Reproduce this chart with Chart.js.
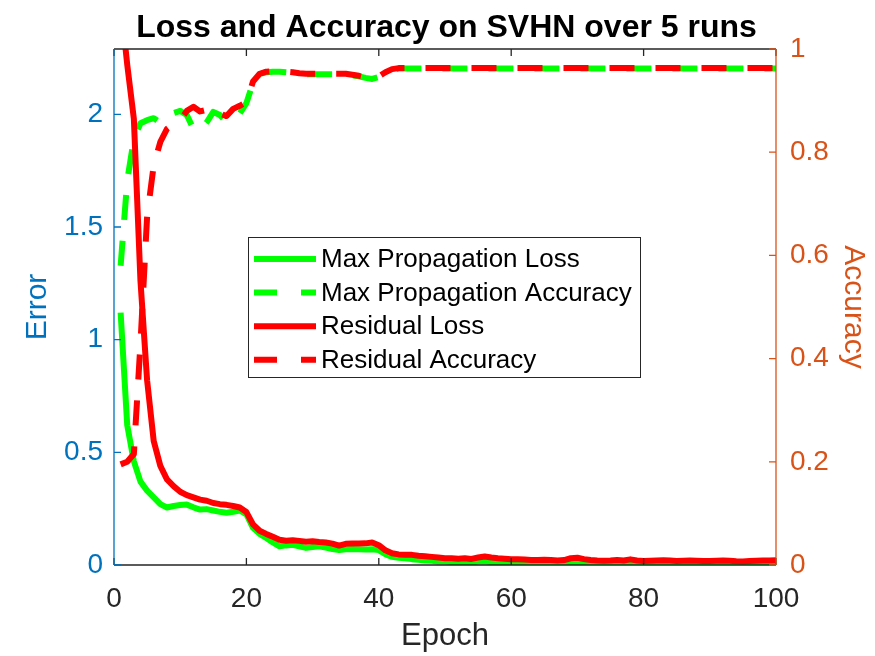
<!DOCTYPE html>
<html>
<head>
<meta charset="utf-8">
<script src="https://cdn.jsdelivr.net/npm/chart.js@4/dist/chart.umd.min.js"></script>
<style>
  html, body { margin: 0; padding: 0; background: #fff; }
  #wrap { width: 875px; height: 656px; }
</style>
</head>
<body>
<div id="wrap"><canvas id="chart-svhn" width="875" height="656"></canvas></div>
<script>
// data
let epochs = Array.from({ length: 100 }, (_, i) => i + 1)

let maxPropLoss = [1.12, 0.62, 0.46, 0.37, 0.33, 0.30, 0.27, 0.255, 0.262, 0.266,
	0.268, 0.256, 0.246, 0.248, 0.242, 0.236, 0.232, 0.236, 0.242, 0.225,
	0.165, 0.138, 0.12, 0.10, 0.083, 0.087, 0.09, 0.083, 0.076, 0.08,
	0.083, 0.077, 0.071, 0.067, 0.07, 0.071, 0.07, 0.069, 0.07, 0.066,
	0.048, 0.036, 0.032, 0.03, 0.026, 0.023, 0.02, 0.019, 0.016, 0.015,
	0.013, 0.012, 0.011, 0.011, 0.015, 0.017, 0.012, 0.01, 0.009, 0.008,
	0.008, 0.007, 0.007, 0.007, 0.007, 0.006, 0.006, 0.007, 0.012, 0.014,
	0.009, 0.007, 0.006, 0.005, 0.006, 0.006, 0.005, 0.006, 0.006, 0.005,
	0.005, 0.006, 0.005, 0.005, 0.006, 0.005, 0.005, 0.005, 0.006, 0.005,
	0.005, 0.005, 0.005, 0.006, 0.005, 0.005, 0.005, 0.005, 0.005, 0.005]

let residualLoss = [2.5, 2.22, 1.98, 1.26, 0.82, 0.55, 0.44, 0.38, 0.35, 0.325,
	0.31, 0.30, 0.29, 0.285, 0.275, 0.27, 0.267, 0.262, 0.255, 0.235,
	0.18, 0.152, 0.138, 0.125, 0.112, 0.108, 0.11, 0.107, 0.103, 0.105,
	0.102, 0.10, 0.095, 0.086, 0.094, 0.095, 0.095, 0.096, 0.10, 0.088,
	0.065, 0.052, 0.047, 0.046, 0.045, 0.041, 0.039, 0.036, 0.033, 0.03,
	0.03, 0.028, 0.03, 0.027, 0.033, 0.038, 0.033, 0.03, 0.028, 0.026,
	0.025, 0.024, 0.022, 0.022, 0.023, 0.022, 0.02, 0.022, 0.03, 0.032,
	0.026, 0.022, 0.02, 0.019, 0.02, 0.022, 0.02, 0.025, 0.02, 0.018,
	0.019, 0.02, 0.021, 0.02, 0.018, 0.019, 0.02, 0.019, 0.018, 0.018,
	0.019, 0.02, 0.019, 0.017, 0.016, 0.018, 0.019, 0.02, 0.02, 0.021]

let maxPropAcc = [0.58, 0.745, 0.826, 0.856, 0.862, 0.866, 0.857, 0.866, 0.876, 0.88,
	0.872, 0.845, 0.842, 0.858, 0.878, 0.872, 0.859, 0.866, 0.875, 0.895,
	0.935, 0.951, 0.955, 0.956, 0.956, 0.955, 0.954, 0.952, 0.951, 0.951,
	0.951, 0.951, 0.951, 0.951, 0.951, 0.949, 0.947, 0.944, 0.942, 0.946,
	0.954, 0.96, 0.962, 0.962, 0.962, 0.962, 0.962, 0.962, 0.962, 0.962,
	0.962, 0.962, 0.962, 0.962, 0.962, 0.962, 0.962, 0.962, 0.962, 0.962,
	0.962, 0.962, 0.962, 0.962, 0.962, 0.962, 0.962, 0.962, 0.962, 0.962,
	0.962, 0.962, 0.962, 0.962, 0.962, 0.962, 0.962, 0.962, 0.962, 0.962,
	0.962, 0.962, 0.962, 0.962, 0.962, 0.962, 0.962, 0.962, 0.962, 0.962,
	0.962, 0.962, 0.962, 0.962, 0.962, 0.962, 0.962, 0.962, 0.962, 0.962]

let residualAcc = [0.195, 0.2, 0.215, 0.43, 0.675, 0.775, 0.82, 0.845, 0.855, 0.862,
	0.88, 0.888, 0.879, 0.882, 0.886, 0.875, 0.87, 0.884, 0.89, 0.897,
	0.937, 0.952, 0.956, 0.957, 0.957, 0.956, 0.955, 0.953, 0.952, 0.952,
	0.952, 0.952, 0.952, 0.952, 0.952, 0.95, 0.948, 0.945, 0.943, 0.947,
	0.955, 0.961, 0.963, 0.963, 0.963, 0.963, 0.963, 0.963, 0.963, 0.963,
	0.963, 0.963, 0.963, 0.963, 0.963, 0.963, 0.963, 0.963, 0.963, 0.963,
	0.963, 0.963, 0.963, 0.963, 0.963, 0.963, 0.963, 0.963, 0.963, 0.963,
	0.963, 0.963, 0.963, 0.963, 0.963, 0.963, 0.963, 0.963, 0.963, 0.963,
	0.963, 0.963, 0.963, 0.963, 0.963, 0.963, 0.963, 0.963, 0.963, 0.963,
	0.963, 0.963, 0.963, 0.963, 0.963, 0.963, 0.963, 0.963, 0.963, 0.963]

let xTicks = [0, 20, 40, 60, 80, 100]
let errorTicks = [0, 0.5, 1, 1.5, 2]
let accTicks = [0, 0.2, 0.4, 0.6, 0.8, 1]

const FONT = '"Liberation Sans", Arial, Helvetica, sans-serif'
const BLUE = '#0072BD'
const ORANGE = '#D95319'
const DARK = '#262626'
const DASH = [25, 21]

// matlab style box: spines, inward ticks, legend inside
let matlabBox = {
	id: 'matlabBox',
	afterDraw(chart) {
		let ctx = chart.ctx
		let a = chart.chartArea
		let sx = chart.scales.x, yl = chart.scales.y, yr = chart.scales.y1
		let tl = 7
		ctx.save()
		ctx.lineWidth = 1.3
		ctx.lineCap = 'butt'

		ctx.strokeStyle = DARK
		ctx.beginPath()
		ctx.moveTo(a.left, a.bottom); ctx.lineTo(a.right, a.bottom)
		ctx.moveTo(a.left, a.top); ctx.lineTo(a.right, a.top)
		xTicks.forEach(v => {
			let px = sx.getPixelForValue(v)
			ctx.moveTo(px, a.bottom); ctx.lineTo(px, a.bottom - tl)
			ctx.moveTo(px, a.top); ctx.lineTo(px, a.top + tl)
		})
		ctx.stroke()

		ctx.strokeStyle = BLUE
		ctx.beginPath()
		ctx.moveTo(a.left, a.top); ctx.lineTo(a.left, a.bottom)
		errorTicks.forEach(v => {
			let py = yl.getPixelForValue(v)
			ctx.moveTo(a.left, py); ctx.lineTo(a.left + tl, py)
		})
		ctx.stroke()

		ctx.strokeStyle = ORANGE
		ctx.beginPath()
		ctx.moveTo(a.right, a.top); ctx.lineTo(a.right, a.bottom)
		accTicks.forEach(v => {
			let py = yr.getPixelForValue(v)
			ctx.moveTo(a.right, py); ctx.lineTo(a.right - tl, py)
		})
		ctx.stroke()

		// legend
		let bx = a.left + 134, by = a.top + 188, bw = 392, bh = 140
		ctx.fillStyle = '#fff'
		ctx.fillRect(bx, by, bw, bh)
		ctx.strokeStyle = DARK
		ctx.lineWidth = 1
		ctx.strokeRect(bx + 0.5, by + 0.5, bw, bh)
		ctx.font = '26px ' + FONT
		ctx.textBaseline = 'middle'
		ctx.fillStyle = '#000'
		let order = [3, 2, 1, 0]
		order.forEach((di, i) => {
			let ds = chart.data.datasets[di]
			let ry = by + 22 + i * 33.6
			ctx.strokeStyle = ds.borderColor
			ctx.lineWidth = 6
			ctx.setLineDash(ds.borderDash ? [23, 24] : [])
			ctx.beginPath()
			ctx.moveTo(bx + 6, ry); ctx.lineTo(bx + 68, ry)
			ctx.stroke()
			ctx.setLineDash([])
			ctx.fillText(ds.label, bx + 73, ry + 1)
		})
		ctx.restore()
	}
}

let lineSet = (label, data, color, axis, dashed, order) => ({
	label,
	data,
	yAxisID: axis,
	borderColor: color,
	backgroundColor: color,
	borderWidth: 6,
	borderDash: dashed ? DASH : undefined,
	borderJoinStyle: 'round',
	pointRadius: 0,
	tension: 0,
	clip: 0,
	order,
})

let chart = new Chart(document.getElementById('chart-svhn'), {
	type: 'line',
	data: {
		labels: epochs,
		datasets: [
			lineSet('Residual Accuracy', residualAcc, '#FF0000', 'y1', true, 0),
			lineSet('Residual Loss', residualLoss, '#FF0000', 'y', false, 1),
			lineSet('Max Propagation Accuracy', maxPropAcc, '#00FF00', 'y1', true, 2),
			lineSet('Max Propagation Loss', maxPropLoss, '#00FF00', 'y', false, 3),
		]
	},
	options: {
		responsive: false,
		animation: false,
		events: [],
		// left padding keeps the title centred over the plot box
		layout: { padding: { left: 18, right: 0, top: 0, bottom: 0 } },
		plugins: {
			legend: { display: false },
			tooltip: { enabled: false },
			title: {
				display: true,
				text: 'Loss and Accuracy on SVHN over 5 runs',
				color: '#000',
				font: { family: FONT, size: 32, weight: 'bold', lineHeight: 1.2 },
				padding: { top: 9, bottom: 1.6 },
			},
		},
		scales: {
			x: {
				type: 'linear',
				min: 0,
				max: 100,
				grid: { display: false, drawTicks: false },
				border: { display: false },
				afterBuildTicks: s => { s.ticks = xTicks.map(v => ({ value: v })) },
				afterFit: s => { s.height = 91 },
				ticks: { color: DARK, padding: 17, maxRotation: 0, font: { family: FONT, size: 28 } },
				title: { display: true, text: 'Epoch', color: DARK, padding: { top: 0, bottom: 1 },
					font: { family: FONT, size: 31, lineHeight: 1.2 } },
			},
			y: {
				position: 'left',
				min: 0,
				max: 2.29,
				grid: { display: false, drawTicks: false },
				border: { display: false },
				afterBuildTicks: s => { s.ticks = errorTicks.map(v => ({ value: v })) },
				afterFit: s => { s.width = 96 },
				ticks: { color: BLUE, padding: 11, font: { family: FONT, size: 28 }, callback: v => String(v) },
				title: { display: true, text: 'Error', color: BLUE, padding: { top: 2, bottom: 0 },
					font: { family: FONT, size: 30, lineHeight: 1.2 } },
			},
			y1: {
				position: 'right',
				min: 0,
				max: 1,
				grid: { display: false, drawTicks: false },
				border: { display: false },
				afterBuildTicks: s => { s.ticks = accTicks.map(v => ({ value: v })) },
				afterFit: s => { s.width = 99 },
				ticks: { color: ORANGE, padding: 14, font: { family: FONT, size: 28 }, callback: v => String(v) },
				title: { display: true, text: 'Accuracy', color: ORANGE, padding: { top: 3.5, bottom: 0 },
					font: { family: FONT, size: 30, lineHeight: 1.2 } },
			},
		}
	},
	plugins: [matlabBox]
})
</script>
</body>
</html>
